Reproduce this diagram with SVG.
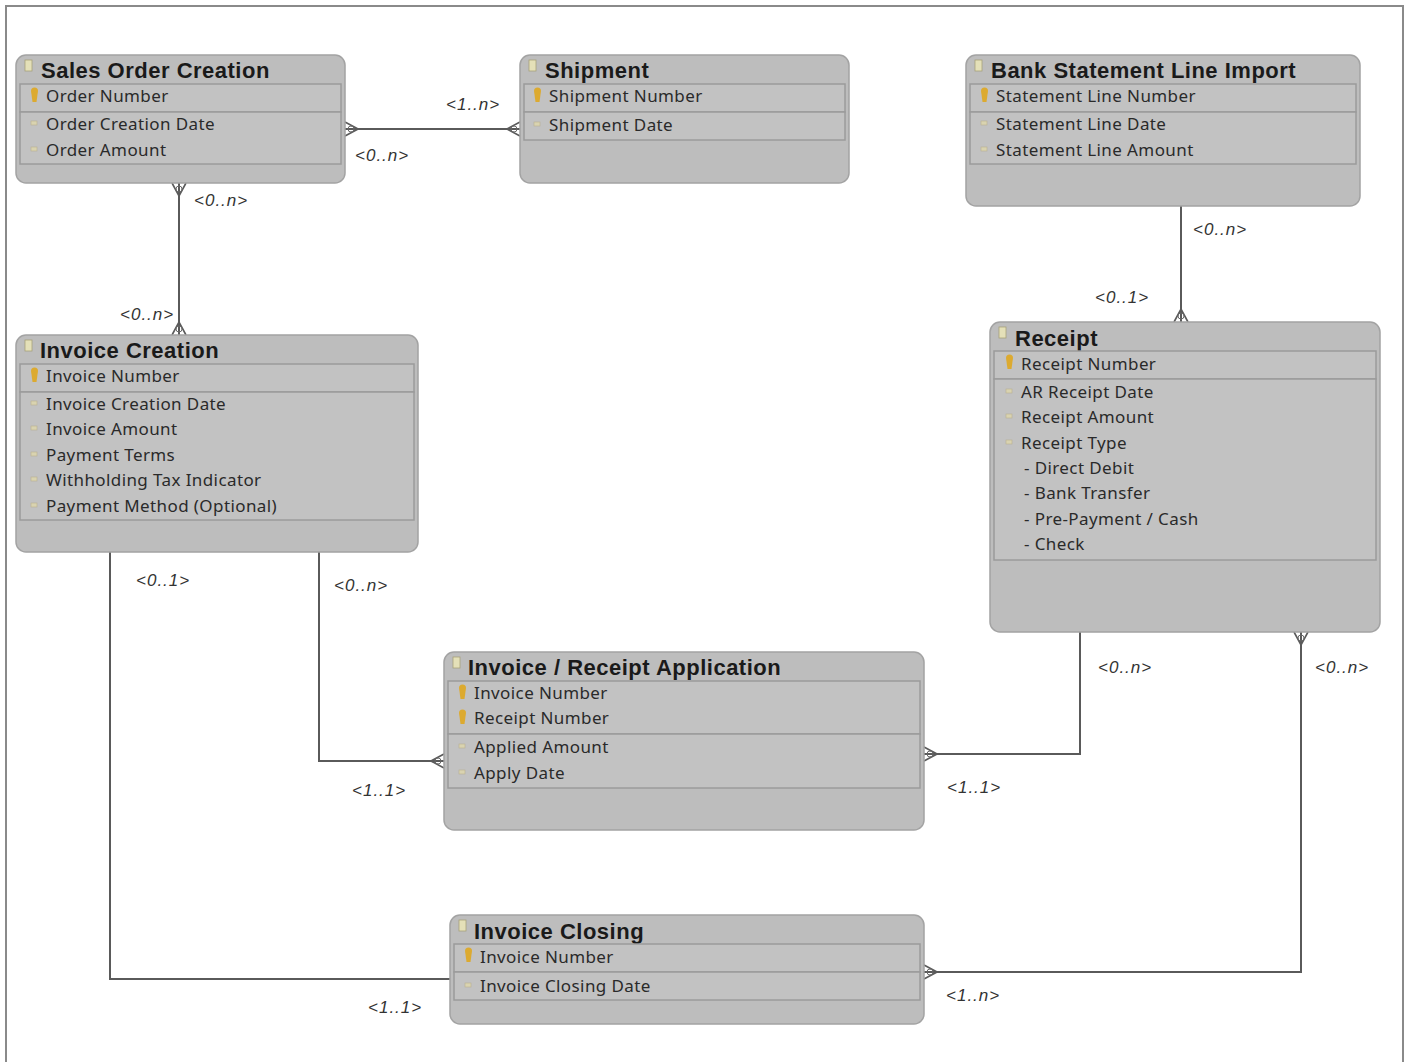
<svg xmlns="http://www.w3.org/2000/svg" width="1409" height="1062" viewBox="0 0 1409 1062">
<defs>
<style>
.frame{fill:#fff;stroke:#8a8a8a;stroke-width:2}
.box{fill:#bdbdbd;stroke:#a3a3a3;stroke-width:1.5}
.band{fill:#c2c2c2;stroke:#9b9b9b;stroke-width:1.5}
.t{font-family:"Liberation Sans",Arial,sans-serif;font-weight:bold;font-size:22px;letter-spacing:0.5px;fill:#1a1a1a}
.a{font-family:"Noto Sans","Open Sans",sans-serif;font-size:17px;letter-spacing:0.4px;fill:#2a2a2a}
.lbl{font-family:"Liberation Sans",Arial,sans-serif;font-style:italic;font-size:17px;letter-spacing:1px;fill:#333}
.conn{fill:none;stroke:#5a5a5a;stroke-width:2}
.key{fill:#dcaa30}
.att{fill:#d9d3b0;stroke:#b9b090;stroke-width:0.6}
.ti{fill:#e4e0b8;stroke:#a8a27a;stroke-width:0.8}
</style>
<marker id="crow" viewBox="0 -10 16 20" markerWidth="16" markerHeight="20" refX="13" refY="0" orient="auto-start-reverse" markerUnits="userSpaceOnUse">
<path d="M0,0 L13,-7 M0,0 L13,0 M0,0 L13,7" fill="none" stroke="#5a5a5a" stroke-width="1.6"/>
<circle cx="7" cy="0" r="3" fill="none" stroke="#6a6a6a" stroke-width="1"/>
</marker>
</defs>
<rect class="frame" x="6" y="6" width="1397" height="1070"/>

<g id="connectors">
<path class="conn" d="M345,129 H520" marker-start="url(#crow)" marker-end="url(#crow)"/>
<path class="conn" d="M179,183 V335" marker-start="url(#crow)" marker-end="url(#crow)"/>
<path class="conn" d="M1181,206 V322" marker-end="url(#crow)"/>
<path class="conn" d="M319,552 V761 H444" marker-end="url(#crow)"/>
<path class="conn" d="M1080,632 V754 H924" marker-end="url(#crow)"/>
<path class="conn" d="M110,552 V979 H450"/>
<path class="conn" d="M1301,632 V972 H924" marker-start="url(#crow)" marker-end="url(#crow)"/>
<text class="lbl" x="446" y="110">&lt;1..n&gt;</text>
<text class="lbl" x="355" y="161">&lt;0..n&gt;</text>
<text class="lbl" x="194" y="206">&lt;0..n&gt;</text>
<text class="lbl" x="120" y="320">&lt;0..n&gt;</text>
<text class="lbl" x="1193" y="235">&lt;0..n&gt;</text>
<text class="lbl" x="1095" y="303">&lt;0..1&gt;</text>
<text class="lbl" x="136" y="586">&lt;0..1&gt;</text>
<text class="lbl" x="334" y="591">&lt;0..n&gt;</text>
<text class="lbl" x="352" y="796">&lt;1..1&gt;</text>
<text class="lbl" x="1098" y="673">&lt;0..n&gt;</text>
<text class="lbl" x="1315" y="673">&lt;0..n&gt;</text>
<text class="lbl" x="947" y="793">&lt;1..1&gt;</text>
<text class="lbl" x="368" y="1013">&lt;1..1&gt;</text>
<text class="lbl" x="946" y="1001">&lt;1..n&gt;</text>
</g>

<g id="sales-order-creation">
<rect class="box" x="16" y="55" width="329" height="128" rx="10"/>
<rect class="ti" x="25" y="60" width="7" height="11"/>
<text class="t" x="41" y="78">Sales Order Creation</text>
<rect class="band" x="20" y="84" width="321" height="28"/>
<rect class="band" x="20" y="112" width="321" height="52"/>
<path class="key" d="M31,91 a3.5,3.5 0 1,1 7,0 l-1.5,11 h-4 z"/>
<text class="a" x="46" y="102">Order Number</text>
<rect class="att" x="31" y="121" width="6" height="4"/>
<text class="a" x="46" y="130">Order Creation Date</text>
<rect class="att" x="31" y="147" width="6" height="4"/>
<text class="a" x="46" y="156">Order Amount</text>
</g>

<g id="shipment">
<rect class="box" x="520" y="55" width="329" height="128" rx="10"/>
<rect class="ti" x="529" y="60" width="7" height="11"/>
<text class="t" x="545" y="78">Shipment</text>
<rect class="band" x="524" y="84" width="321" height="28"/>
<rect class="band" x="524" y="112" width="321" height="28"/>
<path class="key" d="M534,91 a3.5,3.5 0 1,1 7,0 l-1.5,11 h-4 z"/>
<text class="a" x="549" y="102">Shipment Number</text>
<rect class="att" x="534" y="122" width="6" height="4"/>
<text class="a" x="549" y="131">Shipment Date</text>
</g>

<g id="bank-statement-line-import">
<rect class="box" x="966" y="55" width="394" height="151" rx="10"/>
<rect class="ti" x="975" y="60" width="7" height="11"/>
<text class="t" x="991" y="78">Bank Statement Line Import</text>
<rect class="band" x="970" y="84" width="386" height="28"/>
<rect class="band" x="970" y="112" width="386" height="52"/>
<path class="key" d="M981,91 a3.5,3.5 0 1,1 7,0 l-1.5,11 h-4 z"/>
<text class="a" x="996" y="102">Statement Line Number</text>
<rect class="att" x="981" y="121" width="6" height="4"/>
<text class="a" x="996" y="130">Statement Line Date</text>
<rect class="att" x="981" y="147" width="6" height="4"/>
<text class="a" x="996" y="156">Statement Line Amount</text>
</g>

<g id="invoice-creation">
<rect class="box" x="16" y="335" width="402" height="217" rx="10"/>
<rect class="ti" x="25" y="340" width="7" height="11"/>
<text class="t" x="40" y="358">Invoice Creation</text>
<rect class="band" x="20" y="364" width="394" height="28"/>
<rect class="band" x="20" y="392" width="394" height="128"/>
<path class="key" d="M31,371 a3.5,3.5 0 1,1 7,0 l-1.5,11 h-4 z"/>
<text class="a" x="46" y="382">Invoice Number</text>
<rect class="att" x="31" y="401" width="6" height="4"/>
<text class="a" x="46" y="410">Invoice Creation Date</text>
<rect class="att" x="31" y="426" width="6" height="4"/>
<text class="a" x="46" y="435">Invoice Amount</text>
<rect class="att" x="31" y="452" width="6" height="4"/>
<text class="a" x="46" y="461">Payment Terms</text>
<rect class="att" x="31" y="477" width="6" height="4"/>
<text class="a" x="46" y="486">Withholding Tax Indicator</text>
<rect class="att" x="31" y="503" width="6" height="4"/>
<text class="a" x="46" y="512">Payment Method (Optional)</text>
</g>

<g id="receipt">
<rect class="box" x="990" y="322" width="390" height="310" rx="10"/>
<rect class="ti" x="999" y="327" width="7" height="11"/>
<text class="t" x="1015" y="346">Receipt</text>
<rect class="band" x="994" y="351" width="382" height="28"/>
<rect class="band" x="994" y="379" width="382" height="181"/>
<path class="key" d="M1006,358 a3.5,3.5 0 1,1 7,0 l-1.5,11 h-4 z"/>
<text class="a" x="1021" y="370">Receipt Number</text>
<rect class="att" x="1006" y="389" width="6" height="4"/>
<text class="a" x="1021" y="398">AR Receipt Date</text>
<rect class="att" x="1006" y="414" width="6" height="4"/>
<text class="a" x="1021" y="423">Receipt Amount</text>
<rect class="att" x="1006" y="440" width="6" height="4"/>
<text class="a" x="1021" y="449">Receipt Type</text>
<text class="a" x="1024" y="474">- Direct Debit</text>
<text class="a" x="1024" y="499">- Bank Transfer</text>
<text class="a" x="1024" y="525">- Pre-Payment / Cash</text>
<text class="a" x="1024" y="550">- Check</text>
</g>

<g id="invoice-receipt-application">
<rect class="box" x="444" y="652" width="480" height="178" rx="10"/>
<rect class="ti" x="453" y="657" width="7" height="11"/>
<text class="t" x="468" y="675">Invoice / Receipt Application</text>
<rect class="band" x="448" y="681" width="472" height="53"/>
<rect class="band" x="448" y="734" width="472" height="54"/>
<path class="key" d="M459,688 a3.5,3.5 0 1,1 7,0 l-1.5,11 h-4 z"/>
<text class="a" x="474" y="699">Invoice Number</text>
<path class="key" d="M459,713 a3.5,3.5 0 1,1 7,0 l-1.5,11 h-4 z"/>
<text class="a" x="474" y="724">Receipt Number</text>
<rect class="att" x="459" y="744" width="6" height="4"/>
<text class="a" x="474" y="753">Applied Amount</text>
<rect class="att" x="459" y="770" width="6" height="4"/>
<text class="a" x="474" y="779">Apply Date</text>
</g>

<g id="invoice-closing">
<rect class="box" x="450" y="915" width="474" height="109" rx="10"/>
<rect class="ti" x="459" y="920" width="7" height="11"/>
<text class="t" x="474" y="939">Invoice Closing</text>
<rect class="band" x="454" y="944" width="466" height="28"/>
<rect class="band" x="454" y="972" width="466" height="28"/>
<path class="key" d="M465,951 a3.5,3.5 0 1,1 7,0 l-1.5,11 h-4 z"/>
<text class="a" x="480" y="963">Invoice Number</text>
<rect class="att" x="465" y="983" width="6" height="4"/>
<text class="a" x="480" y="992">Invoice Closing Date</text>
</g>
</svg>
